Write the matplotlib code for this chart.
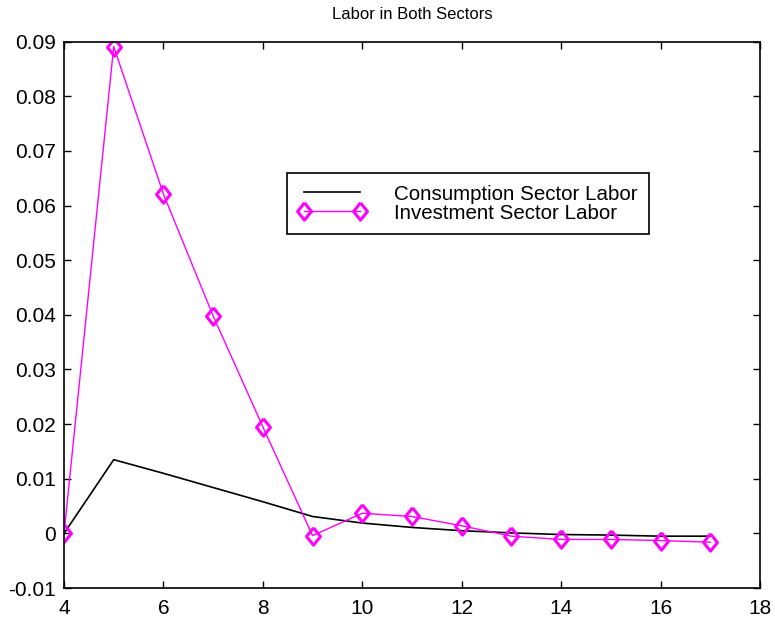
import numpy as np
from matplotlib import pyplot as plt

# periods
periods = [4, 5, 6, 7, 8, 9, 10, 11, 12, 13, 14, 15, 16, 17]

# consumption sector labor (black line)
cons_labor = [0.0, 0.0135, 0.0110, 0.0084, 0.0058, 0.0031, 0.0019, 0.0011,
              0.0005, 0.0001, -0.0002, -0.0003, -0.0005, -0.0005]

# investment sector labor (magenta diamonds)
inv_labor = [0.0, 0.0891, 0.0621, 0.0398, 0.0195, -0.0004, 0.0037, 0.0031,
             0.0014, -0.0005, -0.0011, -0.0011, -0.0013, -0.0016]

x_ticks = [4, 6, 8, 10, 12, 14, 16, 18]
y_ticks = [-0.01, 0.0, 0.01, 0.02, 0.03, 0.04, 0.05, 0.06, 0.07, 0.08, 0.09]
y_tick_labels = ['-0.01', '0', '0.01', '0.02', '0.03', '0.04', '0.05',
                 '0.06', '0.07', '0.08', '0.09']

plt.rcParams['font.family'] = ['Liberation Sans', 'DejaVu Sans']
plt.rcParams['axes.unicode_minus'] = False

fig = plt.figure(figsize=(7.75, 6.21), dpi=100)
ax = fig.add_axes([0.0826, 0.053, 0.898, 0.880])

# matlab style diamond, a bit taller than wide
diamond = [(0, 1), (0.8, 0), (0, -1), (-0.8, 0), (0, 1)]

ax.plot(periods, cons_labor, color='k', linewidth=1.2,
        label='Consumption Sector Labor')
ax.plot(periods, inv_labor, color='#ff00ff', linewidth=1.0, marker=diamond,
        markersize=12.5, mfc='none', mec='#ff00ff', mew=2.2,
        label='Investment Sector Labor')

ax.set_xlim(4, 18)
ax.set_ylim(-0.01, 0.09)
ax.set_xticks(x_ticks)
ax.set_yticks(y_ticks)
ax.set_yticklabels(y_tick_labels)
ax.tick_params(direction='in', top=True, right=True, length=5, width=1.0,
               labelsize=15, pad=6)
ax.tick_params(axis='x', pad=8)
for sp in ax.spines.values():
    sp.set_linewidth(1.2)

ax.set_title('Labor in Both Sectors', fontsize=12, pad=16)

leg = ax.legend(loc='upper left', bbox_to_anchor=(0.32, 0.759), numpoints=2,
                fontsize=14.8, fancybox=False, framealpha=1, edgecolor='k',
                handlelength=3.3, handletextpad=1.35, labelspacing=0.0,
                borderpad=0.55, borderaxespad=0)
leg.get_frame().set_linewidth(1.2)

plt.savefig('out.png', dpi=100)
